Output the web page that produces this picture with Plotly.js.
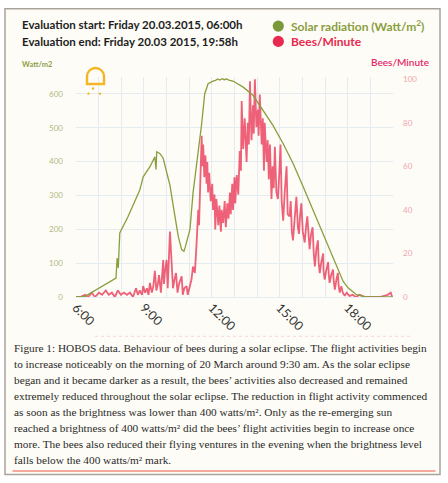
<!DOCTYPE html>
<html>
<head>
<meta charset="utf-8">
<script src="https://cdn.plot.ly/plotly-3.0.1.min.js"></script>
<style>html,body{margin:0;padding:0;background:#fff;}#chart{width:448px;height:483px;}</style>
</head>
<body>
<div id="chart"></div>
<script>
// ---- data ----
const solarTimes = ["06:00","06:24","07:46","07:49","07:52","07:56","08:18","08:49","08:58","09:16","09:29","09:32","09:34","09:42","09:51","10:00","10:09","10:18","10:31","10:40","10:46","10:49","10:57","11:02","11:10","11:15","11:24","11:33","11:41","11:50","12:03","12:10","12:15","12:21","12:27","12:33","12:39","12:45","12:56","13:23","13:49","14:16","14:42","15:09","15:35","16:02","16:28","16:55","17:21","17:39","17:48","18:01","18:23","18:49","19:58"];
const solarValues = [0,2,56,115,86,189,238,316,355,385,414,377,429,424,410,370,330,267,179,140,135,145,180,200,306,350,430,512,600,630,638,640,644,641,645,642,644,641,638,620,596,551,507,453,395,326,257,189,120,71,46,27,7,0,0];

const beesTimes = ["06:00","06:11","06:24","06:32","06:42","06:50","07:01","07:09","07:19","07:27","07:35","07:43","07:51","07:59","08:07","08:15","08:23","08:31","08:39","08:44","08:49","08:55","08:58","09:03","09:08","09:12","09:16","09:21","09:25","09:29","09:33","09:37","09:40","09:45","09:51","09:53","09:56","10:00","10:03","10:09","10:13","10:17","10:21","10:25","10:29","10:33","10:40","10:43","10:47","10:53","10:56","11:02","11:06","11:10","11:15","11:19","11:24","11:26","11:30","11:33","11:35","11:37","11:40","11:43","11:46","11:48","11:50","11:53","11:57","12:01","12:03","12:07","12:09","12:12","12:17","12:20","12:24","12:26","12:30","12:34","12:37","12:41","12:44","12:48","12:50","12:54","12:56","13:00","13:02","13:06","13:10","13:14","13:17","13:19","13:23","13:27","13:32","13:35","13:38","13:41","13:45","13:49","13:51","13:54","13:58","14:02","14:04","14:07","14:12","14:15","14:18","14:20","14:25","14:28","14:31","14:34","14:38","14:41","14:44","14:47","14:51","14:55","14:59","15:02","15:05","15:09","15:13","15:18","15:21","15:26","15:29","15:32","15:35","15:40","15:44","15:48","15:51","15:54","15:57","16:01","16:06","16:10","16:13","16:17","16:19","16:23","16:27","16:30","16:33","16:37","16:41","16:43","16:46","16:50","16:55","16:56","16:59","17:03","17:08","17:10","17:12","17:16","17:21","17:23","17:26","17:30","17:34","17:36","17:39","17:43","17:47","17:52","17:57","18:05","18:13","18:21","18:32","18:45","18:58","19:25","19:46","19:54","19:58"];
const beesValues = [0,0,1,0,2,0,2,1,3,1,2,0,3,1,2,1,2,0,4,1,3,1,5,2,4,1,6.5,2,5,12,3,6,10,2,17,6,12,17,4,30,17,4,8,11,2,6,9.5,1,4,5,1,6,8,14,11,23,40,33,55,74,60,70,55,65,52,62,48,57,44,52,40,47,31,45,33,42,30,40,34,44,32,43,36,48,38,52,40,55,43,56,47,67,58,90,68,82,62,80,70,99,72,88,75,100,78,86,74,93,70,82,58,80,62,72,54,70,45,60,50,69,48,45,58,70,44,35,48,60,38,37,44,30,26,38,46,32,29,38,43,30,25,33,37,27,22,29,32,20,14,22,26,16,11,16,20,12,8,12,16,10,6.5,10,12.6,7,3.4,8,11,5,2,5,2,0.5,2,0.5,1,0,1,0,0,0,1,2,0];

const xTickFormat = "%-H:%M";
const leftTicks = {dtick: 100, range: [0, 650]};
const rightTicks = {dtick: 20, range: [0, 101]};

const titleLines = ["Evaluation start: Friday 20.03.2015, 06:00h", "Evaluation end: Friday 20.03 2015, 19:58h"];
const legendNames = ["Solar radiation (Watt/m<sup>2</sup>)", "Bees/Minute"];
const axisTitles = ["Watt/m2", "Bees/Minute"];
const captionLines = [
  "Figure 1: HOBOS data. Behaviour of bees during a solar eclipse. The flight activities begin",
  "to increase noticeably on the morning of 20 March around 9:30 am. As the solar eclipse",
  "began and it became darker as a result, the bees\u2019 activities also decreased and remained",
  "extremely reduced throughout the solar eclipse. The reduction in flight activity commenced",
  "as soon as the brightness was lower than 400 watts/m\u00b2. Only as the re-emerging sun",
  "reached a brightness of 400 watts/m\u00b2 did the bees\u2019 flight activities begin to increase once",
  "more. The bees also reduced their flying ventures in the evening when the brightness level",
  "falls below the 400 watts/m\u00b2 mark."
];

// ---- layout helpers (pixel -> paper) ----
const L = 76, R = 393, T = 77, B = 297.5;
const PW = R - L, PH = B - T;
const px = x => (x - L) / PW;
const py = y => (B - y) / PH;
const day = t => "2015-03-20 " + t;

const GREEN = "#8a9e3e", GREEN_DOT = "#7b993a", RED = "#e9294f";
const GRID = "#e4ecf2";

const traces = [
  {x: beesTimes.map(day), y: beesValues, type: "scatter", mode: "lines", yaxis: "y",
   line: {color: "rgba(232,38,70,0.72)", width: 1.8}, hoverinfo: "skip", showlegend: false},
  {x: solarTimes.map(day), y: solarValues, type: "scatter", mode: "lines", yaxis: "y2",
   line: {color: GREEN, width: 1.3}, hoverinfo: "skip", showlegend: false}
];

const annotations = [];
titleLines.forEach((t, i) => annotations.push({
  text: "<b>" + t + "</b>", xref: "paper", yref: "paper", x: px(20), y: py(24 + i * 17),
  xanchor: "left", yanchor: "middle", showarrow: false,
  font: {family: "Lato, sans-serif", size: 11.5, color: "#1e1e1e"}
}));
annotations.push({text: "<b>" + legendNames[0] + "</b>", xref: "paper", yref: "paper",
  x: px(289), y: py(26), xanchor: "left", yanchor: "middle", showarrow: false,
  font: {family: "Lato, sans-serif", size: 12, color: GREEN}});
annotations.push({text: "<b>" + legendNames[1] + "</b>", xref: "paper", yref: "paper",
  x: px(289), y: py(41.5), xanchor: "left", yanchor: "middle", showarrow: false,
  font: {family: "Lato, sans-serif", size: 12, color: RED}});
annotations.push({text: "<b>" + axisTitles[0] + "</b>", xref: "paper", yref: "paper",
  x: px(20), y: py(64), xanchor: "left", yanchor: "middle", showarrow: false,
  font: {family: "Lato, sans-serif", size: 7.5, color: "#8f9f4c"}});
annotations.push({text: axisTitles[1], xref: "paper", yref: "paper",
  x: px(431), y: py(62), xanchor: "right", yanchor: "middle", showarrow: false,
  font: {family: "Lato, sans-serif", size: 10, color: "#e8286a", weight: 600}});
captionLines.forEach((t, i) => annotations.push({
  text: t, xref: "paper", yref: "paper", x: px(12), y: py(348.5 + i * 16),
  xanchor: "left", yanchor: "middle", showarrow: false,
  font: {family: "Liberation Serif, serif", size: 11.3, color: "#2a2a2a"}
}));

// bell / eclipse icon path
const bellPath = "M" + px(87) + "," + py(84) + " L" + px(87) + "," + py(76.5) +
  " C" + px(87) + "," + py(71.8) + " " + px(90.8) + "," + py(68) + " " + px(95.5) + "," + py(68) +
  " C" + px(100.2) + "," + py(68) + " " + px(104) + "," + py(71.8) + " " + px(104) + "," + py(76.5) +
  " L" + px(104) + "," + py(84) + " Z";
const dot = (cx, cy, r, color) => ({type: "circle", xref: "paper", yref: "paper",
  x0: px(cx - r), x1: px(cx + r), y0: py(cy + r), y1: py(cy - r),
  fillcolor: color, line: {width: 0}});

const shapes = [
  {type: "rect", xref: "paper", yref: "paper", x0: px(5), x1: px(440), y0: py(475.5), y1: py(8.5),
   fillcolor: "#fdfcf6", line: {color: "#a9a39b", width: 1.5}, layer: "below"},
  {type: "path", xref: "paper", yref: "paper", path: bellPath, line: {color: "#f5b625", width: 2.4}},
  dot(93, 88.5, 1.2, "#f5b625"), dot(88.5, 93.7, 1.2, "#f5b625"), dot(100, 93.7, 1.2, "#f5b625"),
  dot(278.3, 26, 5.6, GREEN_DOT), dot(278.3, 41.3, 5.6, RED),
  {type: "line", xref: "paper", yref: "paper", x0: px(95), x1: px(410), y0: py(337), y1: py(337),
   line: {color: "rgba(240,160,170,0.35)", width: 1.2, dash: "dot"}},
  {type: "line", xref: "paper", yref: "paper", x0: px(12.5), x1: px(435.5), y0: py(472), y1: py(472),
   line: {color: "#f28c80", width: 1.5}}
];

const layout = {
  width: 448, height: 483,
  margin: {l: L, r: 448 - R, t: T, b: 483 - B},
  paper_bgcolor: "#ffffff", plot_bgcolor: "rgba(0,0,0,0)",
  showlegend: false,
  xaxis: {type: "date", range: [day("06:00"), day("20:00")], tick0: day("06:00"), dtick: 3 * 3600000,
    tickformat: xTickFormat, tickangle: 45, showgrid: true, gridcolor: GRID, gridwidth: 1,
    minor: {dtick: 3600000, tick0: day("06:00"), showgrid: true, gridcolor: GRID, gridwidth: 1},
    zeroline: false, showline: false, ticks: "",
    tickfont: {family: "Lato, sans-serif", size: 12.5, color: "#333"}},
  yaxis: {range: rightTicks.range, dtick: rightTicks.dtick, side: "right", showgrid: false, zeroline: false,
    showline: false, ticks: "", ticklabelstandoff: 9,
    tickfont: {family: "Lato, sans-serif", size: 8, color: "#f1a4ad"}},
  yaxis2: {range: leftTicks.range, dtick: leftTicks.dtick, side: "left", overlaying: "y",
    showgrid: true, gridcolor: GRID, zeroline: true, zerolinecolor: GRID, showline: false, ticks: "",
    ticklabelstandoff: 12,
    tickfont: {family: "Lato, sans-serif", size: 8, color: "#b3b987"}},
  annotations: annotations,
  shapes: shapes
};

Plotly.newPlot("chart", traces, layout, {displayModeBar: false, staticPlot: true});
</script>
</body>
</html>
